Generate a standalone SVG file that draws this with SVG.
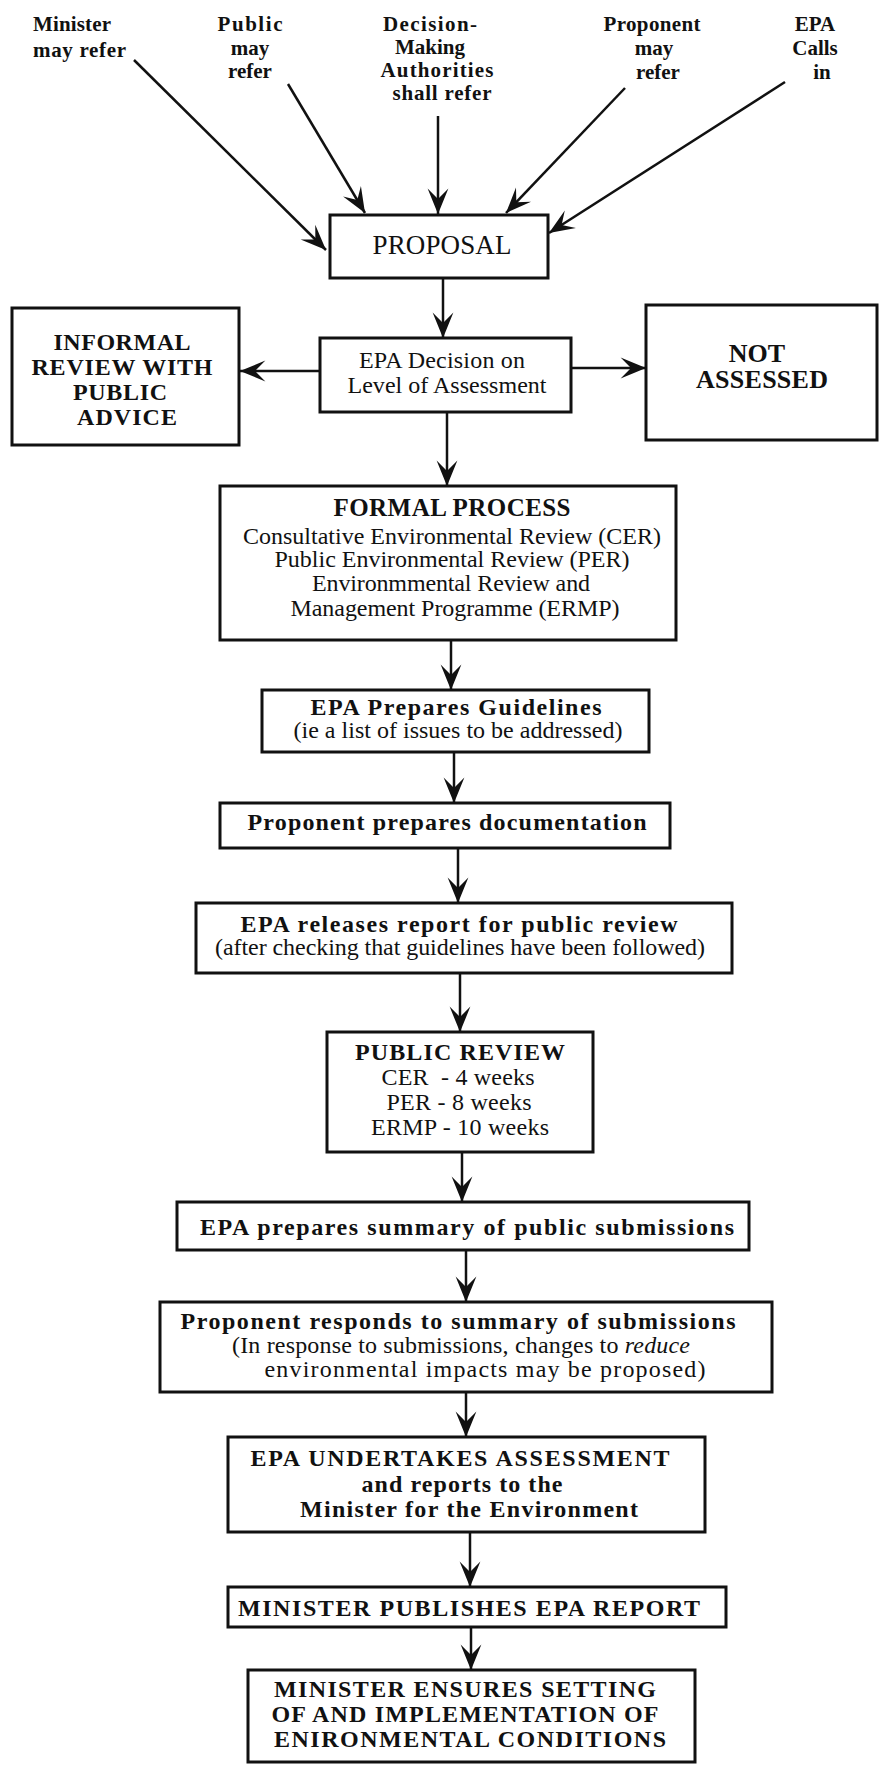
<svg xmlns="http://www.w3.org/2000/svg" width="880" height="1770" viewBox="0 0 880 1770">
<defs>
<style>
.box{fill:#fff;stroke:#111;stroke-width:3}
.t{font-family:"Liberation Serif","Times New Roman",serif;fill:#111;text-anchor:middle;font-size:24px}
.l{text-anchor:start}
.b{font-weight:bold}
.lbl{font-size:21px;font-weight:bold}
.inf{font-size:24px;font-weight:bold}
.conn line{stroke:#111;stroke-width:2.5;marker-end:url(#ah)}
</style>
<marker id="ah" markerUnits="userSpaceOnUse" markerWidth="30" markerHeight="24" refX="24" refY="10" orient="auto" viewBox="0 0 26 20">
<path d="M24,10 L2,1 L11,10 L2,19 Z" fill="#111"/>
</marker>
</defs>
<rect width="880" height="1770" fill="#fff"/>

<g id="connectors" class="conn">
<line x1="134" y1="60" x2="326" y2="250"/>
<line x1="288" y1="84" x2="365" y2="213"/>
<line x1="438" y1="116" x2="438" y2="214"/>
<line x1="625" y1="88" x2="506" y2="213"/>
<line x1="785" y1="82" x2="549" y2="233"/>
<line x1="443" y1="278" x2="443" y2="338"/>
<line x1="320" y1="371" x2="240" y2="371"/>
<line x1="571" y1="368" x2="646" y2="368"/>
<line x1="447" y1="412" x2="447" y2="486"/>
<line x1="451" y1="640" x2="451" y2="690"/>
<line x1="454" y1="752" x2="454" y2="803"/>
<line x1="458" y1="848" x2="458" y2="903"/>
<line x1="460" y1="973" x2="460" y2="1032"/>
<line x1="462" y1="1152" x2="462" y2="1202"/>
<line x1="466" y1="1250" x2="466" y2="1302"/>
<line x1="466" y1="1392" x2="466" y2="1437"/>
<line x1="470" y1="1532" x2="470" y2="1587"/>
<line x1="471" y1="1627" x2="471" y2="1670"/>
</g>

<g id="src-minister">
<text class="t lbl l" x="33" y="31" textLength="78">Minister</text>
<text class="t lbl l" x="33" y="57" textLength="93">may refer</text>
</g>
<g id="src-public">
<text class="t lbl" x="250" y="31" textLength="65">Public</text>
<text class="t lbl" x="250" y="55">may</text>
<text class="t lbl" x="250" y="78">refer</text>
</g>
<g id="src-dma">
<text class="t lbl" x="430" y="31" textLength="94">Decision-</text>
<text class="t lbl" x="430" y="54">Making</text>
<text class="t lbl" x="437" y="77" textLength="113">Authorities</text>
<text class="t lbl" x="442" y="100" textLength="99">shall refer</text>
</g>
<g id="src-proponent">
<text class="t lbl" x="652" y="31" textLength="97">Proponent</text>
<text class="t lbl" x="654" y="55">may</text>
<text class="t lbl" x="658" y="79">refer</text>
</g>
<g id="src-epa">
<text class="t lbl" x="815" y="31">EPA</text>
<text class="t lbl" x="815" y="55">Calls</text>
<text class="t lbl" x="822" y="79">in</text>
</g>

<g id="proposal">
<rect class="box" x="330" y="215" width="218" height="63"/>
<text class="t" x="442" y="254" style="font-size:27px" textLength="139">PROPOSAL</text>
</g>

<g id="epa-decision">
<rect class="box" x="320" y="338" width="251" height="74"/>
<text class="t" x="442" y="368" textLength="166">EPA Decision on</text>
<text class="t" x="447" y="393" textLength="199">Level of Assessment</text>
</g>

<g id="informal">
<rect class="box" x="12" y="308" width="227" height="137"/>
<text class="t inf" x="122" y="350" textLength="137">INFORMAL</text>
<text class="t inf" x="122" y="375" textLength="181">REVIEW WITH</text>
<text class="t inf" x="120" y="400" textLength="94">PUBLIC</text>
<text class="t inf" x="127" y="425" textLength="100">ADVICE</text>
</g>

<g id="not-assessed">
<rect class="box" x="646" y="305" width="231" height="135"/>
<text class="t b" x="757" y="362" style="font-size:26px">NOT</text>
<text class="t b" x="762" y="388" style="font-size:26px" textLength="132">ASSESSED</text>
</g>

<g id="formal">
<rect class="box" x="220" y="486" width="456" height="154"/>
<text class="t b" x="452" y="516" style="font-size:25px" textLength="237">FORMAL PROCESS</text>
<text class="t" x="452" y="544" textLength="418">Consultative Environmental Review (CER)</text>
<text class="t" x="452" y="567" textLength="355">Public Environmental Review (PER)</text>
<text class="t" x="451" y="591" textLength="278">Environmmental Review and</text>
<text class="t" x="455" y="616" textLength="329">Management Programme (ERMP)</text>
</g>

<g id="guidelines">
<rect class="box" x="262" y="690" width="387" height="62"/>
<text class="t b" x="456" y="715" textLength="291">EPA Prepares Guidelines</text>
<text class="t" x="458" y="738" textLength="329">(ie a list of issues to be addressed)</text>
</g>

<g id="documentation">
<rect class="box" x="220" y="803" width="450" height="45"/>
<text class="t b" x="447" y="830" textLength="399">Proponent prepares documentation</text>
</g>

<g id="release">
<rect class="box" x="196" y="903" width="536" height="70"/>
<text class="t b" x="459" y="932" textLength="437">EPA releases report for public review</text>
<text class="t" x="460" y="955" textLength="490">(after checking that guidelines have been followed)</text>
</g>

<g id="public-review">
<rect class="box" x="327" y="1032" width="266" height="120"/>
<text class="t b" x="460" y="1060" textLength="210">PUBLIC REVIEW</text>
<text class="t" x="458" y="1085" style="white-space:pre" textLength="153">CER  - 4 weeks</text>
<text class="t" x="459" y="1110" textLength="145">PER - 8 weeks</text>
<text class="t" x="460" y="1135" textLength="178">ERMP - 10 weeks</text>
</g>

<g id="summary">
<rect class="box" x="177" y="1202" width="572" height="48"/>
<text class="t b" x="467" y="1235" textLength="534">EPA prepares summary of public submissions</text>
</g>

<g id="responds">
<rect class="box" x="160" y="1302" width="612" height="90"/>
<text class="t b" x="458" y="1329" textLength="555">Proponent responds to summary of submissions</text>
<text class="t" x="461" y="1353" textLength="458">(In response to submissions, changes to <tspan font-style="italic">reduce</tspan></text>
<text class="t" x="485" y="1377" textLength="441">environmental impacts may be proposed)</text>
</g>

<g id="assessment">
<rect class="box" x="228" y="1437" width="477" height="95"/>
<text class="t b" x="460" y="1466" textLength="419">EPA UNDERTAKES ASSESSMENT</text>
<text class="t b" x="462" y="1492" textLength="201">and reports to the</text>
<text class="t b" x="469" y="1517" textLength="338">Minister for the Environment</text>
</g>

<g id="publishes">
<rect class="box" x="228" y="1587" width="498" height="40"/>
<text class="t b" x="469" y="1616" textLength="462">MINISTER PUBLISHES EPA REPORT</text>
</g>

<g id="conditions">
<rect class="box" x="248" y="1670" width="447" height="92"/>
<text class="t b" x="465" y="1697" textLength="382">MINISTER ENSURES SETTING</text>
<text class="t b" x="465" y="1722" textLength="387">OF AND IMPLEMENTATION OF</text>
<text class="t b" x="470" y="1747" textLength="392">ENIRONMENTAL CONDITIONS</text>
</g>
</svg>
